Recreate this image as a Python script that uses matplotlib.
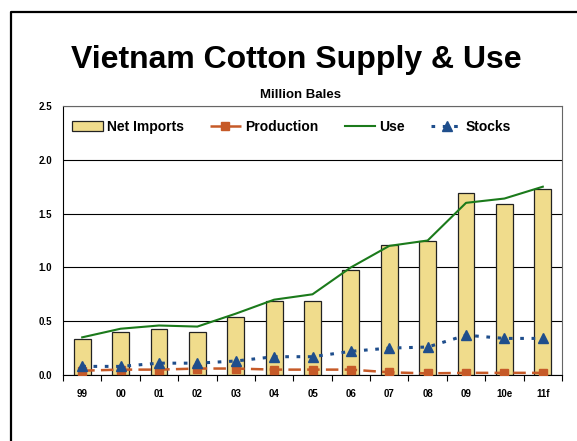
import numpy as np
import matplotlib.pyplot as plt
from matplotlib.lines import Line2D

# --- Data (million bales) ---
years = ["99", "00", "01", "02", "03", "04", "05", "06", "07", "08", "09", "10e", "11f"]
net_imports = [0.33, 0.40, 0.43, 0.40, 0.54, 0.69, 0.69, 0.98, 1.21, 1.25, 1.69, 1.59, 1.73]
production = [0.04, 0.05, 0.05, 0.06, 0.06, 0.05, 0.05, 0.05, 0.025, 0.015, 0.02, 0.02, 0.02]
use = [0.35, 0.43, 0.46, 0.45, 0.57, 0.70, 0.75, 1.00, 1.20, 1.25, 1.60, 1.64, 1.75]
stocks = [0.08, 0.08, 0.11, 0.11, 0.13, 0.17, 0.17, 0.22, 0.25, 0.26, 0.37, 0.34, 0.34]

BAR_COLOR = "#F0DC8C"
PROD_COLOR = "#C65A28"
USE_COLOR = "#1B7A1B"
STOCK_COLOR = "#1F4E8C"

plt.rcParams["font.family"] = ["Liberation Sans", "DejaVu Sans"]
plt.rcParams["font.weight"] = "bold"

fig = plt.figure(figsize=(5.77, 4.41), dpi=100)
ax = fig.add_axes([63 / 577, 66 / 441, 499 / 577, 269 / 441])

x = np.arange(len(years))

bars = ax.bar(x, net_imports, width=0.44, color=BAR_COLOR, edgecolor="#222222",
              linewidth=0.9, label="Net Imports", zorder=2)
prod_line, = ax.plot(x, production, color=PROD_COLOR, linewidth=1.8, linestyle=(0, (5, 2.5)),
                     marker="s", markersize=5.5, label="Production", zorder=3)
use_line, = ax.plot(x, use, color=USE_COLOR, linewidth=1.5, label="Use", zorder=3)
stock_line, = ax.plot(x, stocks, color=STOCK_COLOR, linewidth=2.2, linestyle=(0, (1.2, 2.5)),
                      marker="^", markersize=6.5, label="Stocks", zorder=4)

ax.set_xlim(-0.5, len(years) - 0.5)
ax.set_ylim(0, 2.5)
yt = np.arange(0, 2.51, 0.5)
ax.set_yticks(yt)
ax.set_yticklabels([f"{v:.1f}" for v in yt], fontsize=7, fontweight="bold")
ax.set_xticks(x)
ax.set_xticklabels(years, fontsize=7, fontweight="bold")
ax.set_xticks(np.arange(-0.5, len(years)), minor=True)
ax.tick_params(axis="x", which="major", length=0, pad=10)
ax.tick_params(axis="x", which="minor", length=4, direction="out", width=0.8)
ax.tick_params(axis="y", length=0, pad=8)

ax.grid(axis="y", color="black", linewidth=0.8, zorder=0)
ax.set_axisbelow(True)
ax.spines["left"].set_color("black")
ax.spines["bottom"].set_color("black")
ax.spines["top"].set_color("#666666")
ax.spines["right"].set_color("#666666")

ax.legend([bars, prod_line, use_line, stock_line],
          ["Net Imports", "Production", "Use", "Stocks"],
          loc="upper left", bbox_to_anchor=(0.0, 1.0 - 5 / 269), ncol=4, frameon=False,
          prop={"size": 10, "weight": "bold"}, handlelength=2.2,
          handletextpad=0.3, columnspacing=1.9, borderaxespad=0.15, borderpad=0.5)

fig.text(296 / 577, 1 - 60 / 441, "Vietnam Cotton Supply & Use", ha="center", va="center",
         fontsize=23, fontweight="bold")
fig.text(300 / 577, 1 - 95 / 441, "Million Bales", ha="center", va="center",
         fontsize=9.5, fontweight="bold")

# outer frame (left and top edges)
fig.add_artist(Line2D([11 / 577, 11 / 577, 1.0], [0.0, 1 - 12 / 441, 1 - 12 / 441],
                      transform=fig.transFigure, color="black", linewidth=1.6))

fig.savefig("out.png", dpi=100)
